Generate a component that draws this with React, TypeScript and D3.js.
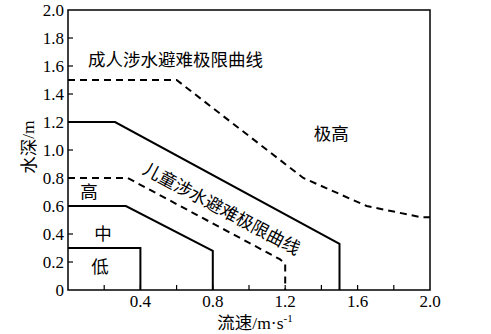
import React from "react";
import * as d3 from "d3";

const xTicks = [0.4, 0.8, 1.2, 1.6, 2.0];
const yTicks = [0, 0.2, 0.4, 0.6, 0.8, 1.0, 1.2, 1.4, 1.6, 1.8, 2.0];
const minorTicks = [0.2, 0.4, 0.6, 0.8, 1.0, 1.2, 1.4, 1.6, 1.8];

const lowCurve: [number, number][] = [[0, 0.3], [0.4, 0.3], [0.4, 0]];
const midCurve: [number, number][] = [[0, 0.6], [0.32, 0.6], [0.8, 0.28], [0.8, 0]];
const childCurve: [number, number][] = [[0, 0.8], [0.33, 0.8], [1.17, 0.22], [1.2, 0.19], [1.2, 0]];
const adultSolid: [number, number][] = [[0, 1.2], [0.26, 1.2], [1.5, 0.33], [1.5, 0]];
const adultDashed: [number, number][] = [[0, 1.5], [0.6, 1.5], [1.3, 0.8], [1.65, 0.6], [1.95, 0.52], [2.0, 0.52]];

const W = 491, H = 334;
const L = 68, R = 430, T = 10, B = 290;

export default function App() {
  const x = d3.scaleLinear().domain([0, 2]).range([L, R]);
  const y = d3.scaleLinear().domain([0, 2]).range([B, T]);
  const line = d3.line<[number, number]>().x(d => x(d[0])).y(d => y(d[1]));
  const serif = { fontFamily: "Liberation Serif, DejaVu Serif, serif" };
  const cjk = { fontFamily: "Noto Sans CJK SC, sans-serif" };
  const angle = (Math.atan2(y(0.22) - y(0.8), x(1.17) - x(0.33)) * 180) / Math.PI;
  const cx = x(0.845), cy = y(0.571);
  const fs = 17.5;
  return (
    <svg width={W} height={H} style={{ position: "absolute", left: 0, top: 0, background: "#fff" }}>
      <rect x={L} y={T} width={R - L} height={B - T} fill="none" stroke="#000" strokeWidth={1.5} />
      {minorTicks.map(t => (
        <line key={"yt" + t} x1={L} x2={L + 5} y1={y(t)} y2={y(t)} stroke="#000" strokeWidth={1.2} />
      ))}
      {minorTicks.map(t => (
        <line key={"xt" + t} x1={x(t)} x2={x(t)} y1={B} y2={B - 5} stroke="#000" strokeWidth={1.2} />
      ))}
      {yTicks.map(t => (
        <text key={"yl" + t} x={L - 4} y={y(t) + 2} textAnchor="end" dominantBaseline="middle"
          style={serif} fontSize={17}>{t === 0 ? "0" : t.toFixed(1)}</text>
      ))}
      {xTicks.map(t => (
        <text key={"xl" + t} x={x(t)} y={B + 17} textAnchor="middle"
          style={serif} fontSize={17}>{t.toFixed(1)}</text>
      ))}
      <path d={line(lowCurve) || ""} fill="none" stroke="#000" strokeWidth={2} />
      <path d={line(midCurve) || ""} fill="none" stroke="#000" strokeWidth={2} />
      <path d={line(adultSolid) || ""} fill="none" stroke="#000" strokeWidth={2} />
      <path d={line(childCurve) || ""} fill="none" stroke="#000" strokeWidth={2} strokeDasharray="7,5" />
      <path d={line(adultDashed) || ""} fill="none" stroke="#000" strokeWidth={2} strokeDasharray="7,5" />
      <text x={x(0.11)} y={y(1.637)} dominantBaseline="middle" style={cjk} fontSize={fs}>成人涉水避难极限曲线</text>
      <text x={x(1.455)} y={y(1.103)} textAnchor="middle" dominantBaseline="middle" style={cjk} fontSize={fs}>极高</text>
      <text x={x(0.116)} y={y(0.69)} textAnchor="middle" dominantBaseline="middle" style={cjk} fontSize={fs}>高</text>
      <text x={x(0.193)} y={y(0.39)} textAnchor="middle" dominantBaseline="middle" style={cjk} fontSize={fs}>中</text>
      <text x={x(0.177)} y={y(0.157)} textAnchor="middle" dominantBaseline="middle" style={cjk} fontSize={fs}>低</text>
      <text transform={`translate(${cx},${cy}) rotate(${angle})`} textAnchor="middle" dominantBaseline="middle"
        style={cjk} fontSize={fs}>儿童涉水避难极限曲线</text>
      <text transform={`translate(30,147) rotate(-90)`} textAnchor="middle" dominantBaseline="middle" fontSize={fs}>
        <tspan style={cjk}>水深</tspan><tspan style={serif}>/m</tspan>
      </text>
      <text x={255} y={329} textAnchor="middle" fontSize={fs}>
        <tspan style={cjk}>流速</tspan><tspan style={serif}>/m·s</tspan>
        <tspan style={serif} fontSize={11} dy={-7}>-1</tspan>
      </text>
    </svg>
  );
}
